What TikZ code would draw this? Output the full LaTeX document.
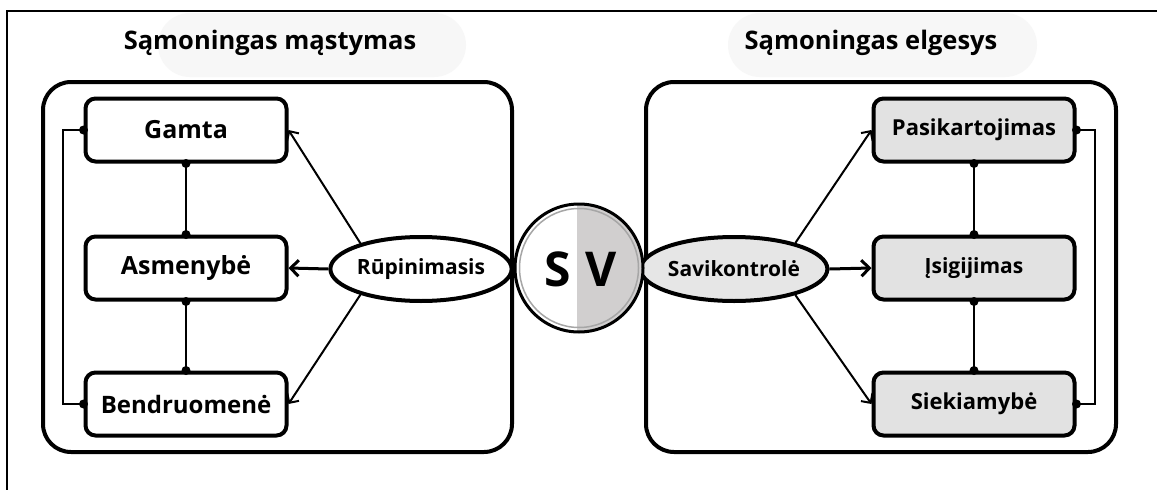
\documentclass[tikz,border=0pt]{standalone}
\usepackage{fontspec}
\setmainfont{Open Sans}
\usetikzlibrary{shapes.geometric,arrows.meta}
\definecolor{itemgray}{HTML}{E2E2E2}
\definecolor{ovalgray}{HTML}{E6E6E6}
\definecolor{halfgray}{HTML}{D1CFCF}
\definecolor{pillgray}{HTML}{F7F7F7}
\tikzset{
  framebox/.style={draw, line width=4pt, rounded corners=28pt},
  itembox/.style={draw, line width=4pt, rounded corners=10pt,
    minimum width=201pt, minimum height=63pt, align=center,
    font=\bfseries\fontsize{25}{29}\selectfont},
  grayitem/.style={itembox, fill=itemgray},
  oval/.style={draw, ellipse, line width=4pt, minimum width=174pt,
    minimum height=64pt, inner sep=0pt,
    font=\bfseries\fontsize{21}{25}\selectfont},
  title/.style={font=\bfseries\fontsize{25.5}{30}\selectfont},
  link/.style={line width=2pt},
  pointer/.style={line width=2pt, -{Straight Barb[length=7pt,width=14pt,line width=2pt]}},
  bigpointer/.style={line width=3pt, -{Straight Barb[length=8pt,width=16pt,line width=3pt]}},
  dot/.style={circle, fill=black, inner sep=0pt, minimum size=9pt},
}
\begin{document}
\begin{tikzpicture}[x=1pt,y=-1pt]
\useasboundingbox (0,0) rectangle (1157,490);
\fill[white] (0,0) rectangle (1157,490);

% page frame (top and left edges)
\draw[line width=2pt] (7,490) -- (7,11) -- (1160,11);

% soft backdrops behind the headings
\fill[pillgray, rounded corners=32pt] (158,13) rectangle (466,77);
\fill[pillgray, rounded corners=32pt] (728,13) rectangle (1037,77);

\node[title] (tl) at (270,43) {Sąmoningas mąstymas};
\node[title] (tr) at (871,43) {Sąmoningas elgesys};

% the two panels
\draw[framebox] (43,82) rectangle (512,452);
\draw[framebox] (646,82) rectangle (1116,452);

% left panel items
\node[itembox] (gamta) at (186,130) {Gamta};
\node[itembox] (asm) at (186,268) {Asmenybė};
\node[itembox, font=\bfseries\fontsize{24}{28}\selectfont] (bendr) at (186,404) {Bendruomenė};

% right panel items
\node[grayitem, font=\bfseries\fontsize{22}{26}\selectfont] (pasik) at (974,130) {Pasikartojimas};
\node[grayitem, font=\bfseries\fontsize{21}{25}\selectfont] (isig) at (974,268) {Įsigijimas};
\node[grayitem, font=\bfseries\fontsize{22}{26}\selectfont] (siek) at (974,404) {Siekiamybė};

% ovals
\node[oval, fill=white] (rup) at (421,269) {Rūpinimasis};
\node[oval, fill=ovalgray] (sav) at (734,269) {Savikontrolė};

% left connectors
\draw[link] (gamta.south) -- (asm.north);
\draw[link] (asm.south) -- (bendr.north);
\draw[link] (gamta.west) -- ++(-21,0) |- (bendr.west);
\node[dot] (d1) at (gamta.south) {};
\node[dot] (d2) at (asm.north) {};
\node[dot] (d3) at (asm.south) {};
\node[dot] (d4) at (bendr.north) {};
\node[dot] (d5) at (gamta.west) {};
\node[dot] (d6) at (bendr.west) {};

% right connectors
\draw[link] (pasik.south) -- (isig.north);
\draw[link] (isig.south) -- (siek.north);
\draw[link] (pasik.east) -- ++(18,0) |- (siek.east);
\node[dot] (e1) at (pasik.south) {};
\node[dot] (e2) at (isig.north) {};
\node[dot] (e3) at (isig.south) {};
\node[dot] (e4) at (siek.north) {};
\node[dot] (e5) at (pasik.east) {};
\node[dot] (e6) at (siek.east) {};

% arrows out of the ovals
\draw[pointer] (rup.157) -- (gamta.east);
\draw[bigpointer] (rup.west) -- (asm.east);
\draw[pointer] (rup.203) -- (bendr.east);
\draw[pointer] (sav.23) -- (pasik.west);
\draw[bigpointer] (sav.east) -- (isig.west);
\draw[pointer] (sav.-23) -- (siek.west);

% central S | V disc
\begin{scope}
  \clip (579,268) circle (63);
  \fill[white] (510,200) rectangle (577,340);
  \fill[halfgray] (577,200) rectangle (650,340);
\end{scope}
\draw[gray!70, line width=1.5pt] (579,268) circle (59.5);
\draw[line width=3pt] (579,268) circle (64);
\node[font=\bfseries\fontsize{48}{52}\selectfont] (s) at (558,269) {S};
\node[font=\bfseries\fontsize{48}{52}\selectfont] (v) at (601,269) {V};
\end{tikzpicture}
\end{document}
